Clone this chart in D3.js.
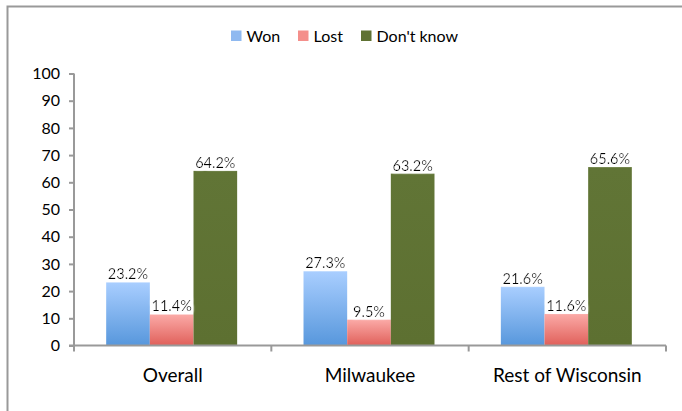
<!DOCTYPE html>
<html><head><meta charset="utf-8">
<script src="https://cdn.jsdelivr.net/npm/d3@7"></script>
<style>body{margin:0;background:#fff;}svg{display:block;font-family:Lato, "Noto Sans", sans-serif;}</style>
</head><body>
<svg id="chart" width="682" height="411"></svg>
<script>
const categories = ["Overall", "Milwaukee", "Rest of Wisconsin"];
const seriesNames = ["Won", "Lost", "Don't know"];
const won = [23.2, 27.3, 21.6];
const lost = [11.4, 9.5, 11.6];
const dontKnow = [64.2, 63.2, 65.6];
const yTicks = [0, 10, 20, 30, 40, 50, 60, 70, 80, 90, 100];

(function () {
const seriesValues = [won, lost, dontKnow];
const svg = d3.select("#chart");
const defs = svg.append("defs");
function grad(id, c1, c2) {
  const g = defs.append("linearGradient").attr("id", id).attr("x1", 0).attr("y1", 0).attr("x2", 0).attr("y2", 1);
  g.append("stop").attr("offset", "0%").attr("stop-color", c1);
  g.append("stop").attr("offset", "100%").attr("stop-color", c2);
}
grad("gWon", "#a9ceff", "#5797dc");
grad("gLost", "#fbaaa7", "#e0605a");
grad("gDk", "#617536", "#5d7031");
const fills = ["url(#gWon)", "url(#gLost)", "url(#gDk)"];
const swatch = ["#8fb9f0", "#f48f8b", "#5f7233"];

const f = defs.append("filter").attr("id", "glow").attr("x", "-20%").attr("y", "-40%").attr("width", "140%").attr("height", "180%");
f.append("feMorphology").attr("in", "SourceAlpha").attr("operator", "dilate").attr("radius", 1.5).attr("result", "d");
f.append("feGaussianBlur").attr("in", "d").attr("stdDeviation", 1).attr("result", "b");
f.append("feFlood").attr("flood-color", "#ffffff");
f.append("feComposite").attr("in2", "b").attr("operator", "in").attr("result", "w");
const fm = f.append("feMerge");
fm.append("feMergeNode").attr("in", "w");
fm.append("feMergeNode").attr("in", "SourceGraphic");

svg.append("rect").attr("x", 7.5).attr("y", 6.5).attr("width", 700).attr("height", 420)
  .attr("fill", "none").attr("stroke", "#999").attr("stroke-width", 2);

const pLeft = 74, pRight = 666, pTop = 73.5, pBottom = 345.5;
const x = d3.scaleBand().domain(categories).range([pLeft, pRight]).paddingInner(0).paddingOuter(0);
const x1 = d3.scaleBand().domain(seriesNames).range([0, x.bandwidth()]).paddingInner(0).paddingOuter(0.76);
const y = d3.scaleLinear().domain([0, 100]).range([pBottom, pTop]);

categories.forEach((c, ci) => {
  seriesNames.forEach((s, si) => {
    const v = seriesValues[si][ci];
    svg.append("rect")
      .attr("x", x(c) + x1(s) - 1).attr("y", y(v))
      .attr("width", x1.bandwidth()).attr("height", y(0) - y(v))
      .attr("fill", fills[si]);
  });
});
categories.forEach((c, ci) => {
  seriesNames.forEach((s, si) => {
    const v = seriesValues[si][ci];
    svg.append("text")
      .attr("x", x(c) + x1(s) - 1 + x1.bandwidth() / 2).attr("y", y(v) - 3)
      .attr("text-anchor", "middle").attr("font-size", 14.5).attr("fill", "#000")
      .attr("filter", "url(#glow)")
      .text(v.toFixed(1) + "%");
  });
});

const yAxis = svg.append("g").attr("transform", `translate(${pLeft},0)`)
  .call(d3.axisLeft(y).tickValues(yTicks).tickSize(5).tickPadding(9).tickFormat(d3.format("d")));
yAxis.select(".domain").attr("stroke", "#999").attr("stroke-width", 2).attr("d", `M0,${pTop}V${pBottom}`);
yAxis.selectAll(".tick line").attr("stroke", "#999").attr("stroke-width", 2);
yAxis.selectAll(".tick text").attr("font-size", 16).attr("fill", "#000").attr("font-family", "Lato, sans-serif");

const xAxis = svg.append("g").attr("transform", `translate(0,${pBottom})`)
  .call(d3.axisBottom(x).tickSize(0).tickPadding(23));
xAxis.select(".domain").attr("stroke", "#999").attr("stroke-width", 2).attr("d", `M${pLeft - 5},0H${pRight}`);
xAxis.selectAll(".tick text").attr("font-size", 19).attr("fill", "#000").attr("font-family", "Lato, sans-serif");
const boundaries = [pLeft].concat(categories.map(c => x(c) + x.bandwidth()));
xAxis.selectAll(".sep").data(boundaries).enter().append("line")
  .attr("x1", d => d).attr("x2", d => d).attr("y1", 0).attr("y2", 6)
  .attr("stroke", "#999").attr("stroke-width", 2);

const legendX = [231, 298, 361];
const lg = svg.append("g");
seriesNames.forEach((s, i) => {
  lg.append("rect").attr("x", legendX[i]).attr("y", 30.5).attr("width", 10.5).attr("height", 10.5).attr("fill", swatch[i]);
  lg.append("text").attr("x", legendX[i] + 15.5).attr("y", 42).attr("font-size", 16).attr("fill", "#000").text(s);
});
})();
</script>
</body></html>
